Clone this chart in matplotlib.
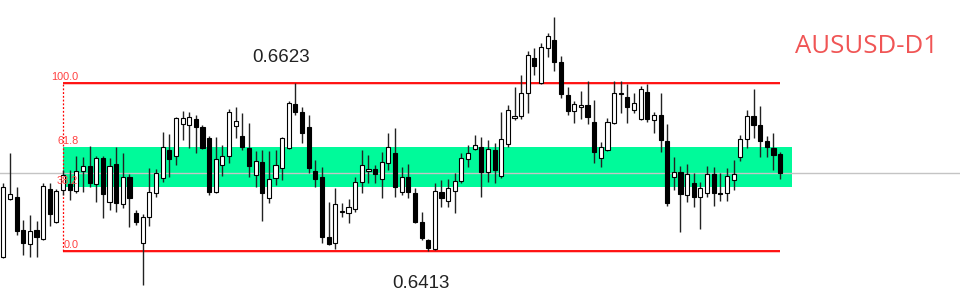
import numpy as np
import matplotlib.pyplot as plt

# daily AUDUSD candles
opens = [0.6406, 0.6478, 0.6481, 0.6439, 0.6422, 0.6439, 0.6428, 0.6491, 0.6449, 0.6489,
         0.6497, 0.6488, 0.6513, 0.6519, 0.6497, 0.6529, 0.6474, 0.6522, 0.6472, 0.6506,
         0.6461, 0.6423, 0.6456, 0.6486, 0.6504, 0.6539, 0.6532, 0.6572, 0.6571, 0.6578,
         0.6568, 0.6554, 0.6487, 0.6521, 0.6532, 0.6569, 0.6557, 0.6542, 0.6508, 0.6524,
         0.6479, 0.6504, 0.6517, 0.6542, 0.6597, 0.6587, 0.6568, 0.6513, 0.6506, 0.6431,
         0.6423, 0.6462, 0.6461, 0.6466, 0.6499, 0.6513, 0.6516, 0.6503, 0.6523, 0.6536,
         0.6487, 0.6506, 0.6486, 0.6449, 0.6427, 0.6416, 0.6487, 0.6476, 0.6488, 0.6501,
         0.6528, 0.6541, 0.6543, 0.6512, 0.6539, 0.6507, 0.6547, 0.6579, 0.6582, 0.6611,
         0.6654, 0.6623, 0.6667, 0.6677, 0.6649, 0.6608, 0.6588, 0.6593, 0.6596, 0.6574,
         0.6529, 0.6539, 0.6573, 0.6609, 0.6606, 0.6589, 0.6578, 0.6612, 0.6577, 0.6583,
         0.6551, 0.6506, 0.6512, 0.6483, 0.6498, 0.6481, 0.6486, 0.6509, 0.6486, 0.6486,
         0.6502, 0.6531, 0.6553, 0.6582, 0.6571, 0.6551, 0.6542, 0.6534]
highs = [0.6498, 0.6536, 0.6493, 0.6452, 0.6458, 0.6451, 0.6498, 0.6498, 0.6491, 0.6514,
         0.6514, 0.6532, 0.6531, 0.6544, 0.6532, 0.6532, 0.6529, 0.6543, 0.6536, 0.6509,
         0.6464, 0.6459, 0.6517, 0.6516, 0.6562, 0.6559, 0.6581, 0.6588, 0.6587, 0.6583,
         0.6571, 0.6557, 0.6556, 0.6546, 0.6591, 0.6593, 0.6586, 0.6573, 0.6538, 0.6539,
         0.6538, 0.6539, 0.6556, 0.6601, 0.6623, 0.6593, 0.6583, 0.6527, 0.6518, 0.6474,
         0.6492, 0.6473, 0.6478, 0.6506, 0.6539, 0.6533, 0.6521, 0.6537, 0.6561, 0.6567,
         0.6518, 0.6522, 0.6492, 0.6462, 0.6428, 0.6498, 0.6502, 0.6503, 0.6511, 0.6536,
         0.6546, 0.6558, 0.6556, 0.6552, 0.6548, 0.6587, 0.6596, 0.6618, 0.6633, 0.6663,
         0.6667, 0.6673, 0.6686, 0.6706, 0.6657, 0.6618, 0.6601, 0.6613, 0.6626, 0.6602,
         0.6549, 0.6579, 0.6626, 0.6626, 0.6622, 0.6611, 0.6619, 0.6622, 0.6587, 0.6611,
         0.6572, 0.6531, 0.6519, 0.6522, 0.6511, 0.6499, 0.6519, 0.6518, 0.6511, 0.6517,
         0.6527, 0.6558, 0.6589, 0.6616, 0.6594, 0.6557, 0.6561, 0.6537]
lows = [0.6404, 0.6477, 0.6433, 0.6408, 0.6406, 0.6406, 0.6427, 0.6444, 0.6448, 0.6483,
        0.6477, 0.6486, 0.6487, 0.6493, 0.6474, 0.6454, 0.6464, 0.6462, 0.6467, 0.6443,
        0.6446, 0.6371, 0.6444, 0.6481, 0.6499, 0.6506, 0.6521, 0.6552, 0.6542, 0.6536,
        0.6541, 0.6483, 0.6486, 0.6507, 0.6523, 0.6554, 0.6539, 0.6506, 0.6493, 0.6451,
        0.6473, 0.6496, 0.6502, 0.6541, 0.6583, 0.6548, 0.6511, 0.6493, 0.6423, 0.6421,
        0.6416, 0.6456, 0.6448, 0.6462, 0.6486, 0.6498, 0.6498, 0.6479, 0.6514, 0.6481,
        0.6483, 0.6479, 0.6448, 0.6427, 0.6413, 0.6414, 0.6468, 0.6468, 0.6461, 0.6498,
        0.6518, 0.6539, 0.6481, 0.6499, 0.6498, 0.6504, 0.6543, 0.6577, 0.6578, 0.6586,
        0.6633, 0.6622, 0.6656, 0.6638, 0.6604, 0.6583, 0.6573, 0.6578, 0.6572, 0.6523,
        0.6518, 0.6538, 0.6572, 0.6586, 0.6573, 0.6586, 0.6577, 0.6574, 0.6561, 0.6537,
        0.6469, 0.6489, 0.6437, 0.6474, 0.6468, 0.6441, 0.6481, 0.6469, 0.6476, 0.6476,
        0.6489, 0.6525, 0.6542, 0.6554, 0.6531, 0.6531, 0.6514, 0.6503]
closes = [0.6493, 0.6484, 0.6438, 0.6423, 0.6438, 0.6431, 0.6494, 0.6459, 0.6488, 0.6508,
          0.6489, 0.6513, 0.6519, 0.6498, 0.6529, 0.6484, 0.6519, 0.6473, 0.6506, 0.6479,
          0.6449, 0.6456, 0.6487, 0.6511, 0.6543, 0.6528, 0.6579, 0.6579, 0.6581, 0.6568,
          0.6542, 0.6487, 0.6528, 0.6532, 0.6587, 0.6576, 0.6543, 0.6519, 0.6526, 0.6486,
          0.6503, 0.6521, 0.6554, 0.6598, 0.6587, 0.6561, 0.6517, 0.6503, 0.6431, 0.6422,
          0.6472, 0.6463, 0.6468, 0.6499, 0.6521, 0.6516, 0.6509, 0.6524, 0.6543, 0.6493,
          0.6506, 0.6487, 0.6449, 0.6429, 0.6417, 0.6488, 0.6479, 0.6492, 0.6501, 0.6529,
          0.6536, 0.6546, 0.6512, 0.6541, 0.6514, 0.6553, 0.6589, 0.6582, 0.6611, 0.6658,
          0.6644, 0.6668, 0.6682, 0.6649, 0.6609, 0.6588, 0.6597, 0.6596, 0.6581, 0.6537,
          0.6543, 0.6574, 0.6611, 0.6611, 0.6593, 0.6598, 0.6616, 0.6578, 0.6583, 0.6552,
          0.6473, 0.6512, 0.6484, 0.6509, 0.6481, 0.6492, 0.6509, 0.6486, 0.6484, 0.6507,
          0.6509, 0.6553, 0.6582, 0.6571, 0.6551, 0.6543, 0.6533, 0.6511]

fib_high = 0.6623
fib_low = 0.6413
fib_levels = [100.0, 61.8, 38.2, 0.0]
symbol = "AUSUSD-D1"

o = np.array(opens)
h = np.array(highs)
l = np.array(lows)
c = np.array(closes)
x = np.arange(len(o))
up = c >= o

fig = plt.figure(figsize=(9.6, 3.03), dpi=100)
ax = fig.add_axes([0, 0, 1, 1])
ax.set_xlim(-0.5, 144.1)
ax.set_ylim(0.6348, 0.672675)
ax.axis('off')

# fibonacci retracement
x0, x1 = 9, len(o) - 1
lvl = lambda p: fib_low + (fib_high - fib_low) * p / 100.0
ax.axhspan(lvl(38.2), lvl(61.8), xmin=(x0 + 0.5) / 144.6, xmax=(x1 + 2.3) / 144.6,
           color='#00FA9A', lw=0, zorder=1)
for p in [100.0, 0.0]:
    ax.hlines(lvl(p) - 0.00013, x0, x1, color='#ffb4b4', lw=1.2, zorder=2)
    ax.hlines(lvl(p), x0, x1, color='#ff0000', lw=1.3, zorder=2)
ax.vlines(x0, fib_low, fib_high, color='#ff0000', lw=0.9, linestyles=(0, (1.5, 1.5)), zorder=2)
for p in fib_levels:
    ax.text(x0 + 2.3, lvl(p) + 0.0001, f"{p:.1f}", color='#ff4040', fontsize=7.8,
            family='Liberation Sans', ha='right', va='bottom', zorder=6)

# current price line
ax.axhline(c[-1], color='#c4c4c4', lw=1, zorder=2)

# candles
ax.vlines(x, l, h, color='#222222', lw=1, zorder=3)
body = np.abs(c - o)
body = np.where(body < 0.00002, 0.00002, body)
ax.bar(x[up], body[up], bottom=o[up], width=0.62, color='white',
       edgecolor='black', linewidth=0.8, zorder=4)
ax.bar(x[~up], body[~up], bottom=c[~up], width=0.62, color='black',
       edgecolor='black', linewidth=0.8, zorder=4)

ax.text(41.9, 0.66555, f"{fib_high:.4f}", fontsize=13.5, family='Liberation Sans',
        color='#222222', ha='center', va='center')
ax.text(62.9, 0.6373, f"{fib_low:.4f}", fontsize=13.5, family='Liberation Sans',
        color='#222222', ha='center', va='center')
fig.text(0.828, 0.845, symbol, fontsize=18.5, family='Open Sans', color='#f05555',
         ha='left', va='center')

fig.savefig('out.png', dpi=100)
